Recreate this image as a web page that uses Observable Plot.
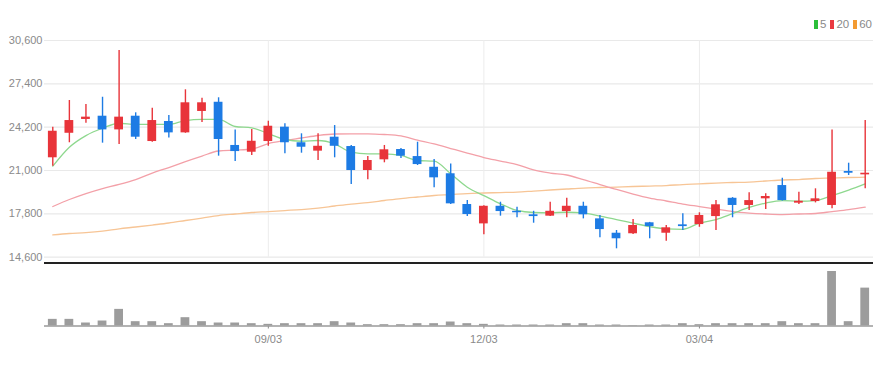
<!DOCTYPE html>
<html><head><meta charset="utf-8">
<script src="https://cdn.jsdelivr.net/npm/d3@7"></script>
<script src="https://cdn.jsdelivr.net/npm/@observablehq/plot@0.6"></script>
<style>
body{margin:0;background:#fff;}
#chart{position:relative;width:891px;height:366px;overflow:hidden;font-family:"Liberation Sans Narrow","Liberation Sans",Arial,sans-serif;}
#chart svg{display:block;background:transparent;}
#legend{position:absolute;top:18px;right:19px;font-size:11.5px;color:#8a8a8a;display:flex;align-items:center;}
#legend span.item{display:inline-flex;align-items:center;margin-left:4px;}
#legend i{display:inline-block;width:4px;height:9px;margin-right:2px;}
#sep{position:absolute;left:44px;top:262px;width:829px;height:2px;background:#222;}
</style></head><body>
<div id="chart"><div id="price"></div><div id="volume"></div><div id="sep"></div><div id="legend"></div></div>
<script>
const dates = ["2018-06-04","2018-06-11","2018-06-18","2018-06-25","2018-07-02","2018-07-09","2018-07-16","2018-07-23","2018-07-30","2018-08-06","2018-08-13","2018-08-20","2018-08-27","2018-09-03","2018-09-10","2018-09-17","2018-09-24","2018-10-01","2018-10-08","2018-10-15","2018-10-22","2018-10-29","2018-11-05","2018-11-12","2018-11-19","2018-11-26","2018-12-03","2018-12-10","2018-12-17","2018-12-24","2018-12-31","2019-01-07","2019-01-14","2019-01-21","2019-01-28","2019-02-04","2019-02-11","2019-02-18","2019-02-25","2019-03-04","2019-03-11","2019-03-18","2019-03-25","2019-04-01","2019-04-08","2019-04-15","2019-04-22","2019-04-29","2019-05-06","2019-05-13"];
const open  = [21940,23750,24770,25010,24000,25010,23140,24620,23780,25360,26040,22850,22350,23140,24200,23050,22430,23460,22770,21000,21790,22550,22030,21240,20760,18490,17060,18360,17990,17730,17630,17970,18360,17430,16370,16330,17140,16370,16990,17010,17600,18950,18420,18910,19890,18590,18710,18420,20930,20680];
const high  = [24200,26170,25870,26410,29860,25260,25600,25060,26960,26340,26370,24000,24030,24640,24450,23710,23710,24320,22850,22030,22850,22620,23090,21810,21490,18780,18400,18660,18290,17990,18660,18950,18660,17680,16570,17380,17170,16940,17800,17880,18780,19000,19350,19280,20430,19400,19650,24000,21540,24690];
const low   = [21320,23050,24490,23020,22920,23290,23090,23410,23750,24540,22060,21660,22110,22790,22230,22280,21740,21940,19970,20310,21570,21890,21370,19720,18500,17600,16250,17630,17510,17110,17600,17510,17430,16030,15220,16270,15960,15780,16570,16810,16570,17510,18050,18120,18750,18490,18610,18170,20630,19650];
const close = [23900,24690,24940,24000,24940,23460,24690,23780,26000,26000,23290,22400,23160,24270,23050,22720,22790,22790,21000,21740,22530,22060,21440,20460,18540,17750,18360,17970,17880,17600,17990,18360,17730,16640,15960,16940,16860,16770,16860,17680,18470,18420,18780,19080,18780,18730,18910,20870,20800,20800];
const ma5   = [21320,22720,23580,24120,24490,24400,24400,24400,24690,24770,24770,24250,24150,23730,23290,23160,23215,22970,22350,22230,22230,22110,21740,21690,20760,19770,19150,18540,18050,17900,17880,17920,17880,17625,17380,17110,16860,16690,16660,17120,17380,17820,18270,18600,18780,18730,18780,19150,19560,20020];
const ma20  = [18340,18860,19300,19670,19970,20335,20815,21220,21665,22070,22440,22510,22590,22990,23215,23400,23585,23695,23710,23710,23660,23550,23250,22960,22625,22290,21960,21700,21440,21040,20815,20670,20335,19965,19600,19265,18970,18750,18525,18340,18155,17970,17860,17790,17750,17790,17825,17970,18120,18300];
const ma60  = [16250,16350,16420,16530,16695,16830,16975,17125,17310,17490,17675,17790,17900,17970,18045,18120,18230,18380,18525,18635,18785,18930,19045,19155,19225,19300,19340,19375,19410,19485,19560,19635,19705,19745,19780,19820,19855,19890,19965,20015,20075,20115,20150,20225,20300,20335,20410,20445,20485,20505];
const volume = [200,200,90,150,500,130,130,70,250,130,90,90,70,50,70,70,70,130,90,40,40,40,70,70,120,70,50,30,30,30,30,70,70,30,30,10,30,30,70,40,70,70,70,70,130,70,70,1640,130,1140];
const yTicks = [14600,17800,21000,24200,27400,30600];
const xTicks = ["2018-09-03","2018-12-03","2019-03-04"];
const maNames = ["5","20","60"];
const maKeys = ["ma5","ma20","ma60"];
const legendColors = ["#2cbf3a","#ea3a40","#f39a30"];
const lineColors = ["#8ed88e","#f3a0a8","#f7c596"];

const UP = "#e8343a", DOWN = "#1d7be4";
const rows = dates.map((d,i)=>({date:d, open:open[i], high:high[i], low:low[i], close:close[i], ma5:ma5[i], ma20:ma20[i], ma60:ma60[i], volume:volume[i], color: close[i] >= open[i] ? UP : DOWN}));
const fontFamily = '"Liberation Sans Narrow","Liberation Sans",Arial,sans-serif';

const price = Plot.plot({
  width: 891, height: 262,
  marginLeft: 44, marginRight: 18, marginTop: 40, marginBottom: 5.3,
  style: {fontFamily, fontSize: "11px", color: "#8a8a8a", background: "transparent", overflow: "visible"},
  x: {type: "band", domain: dates, padding: 0, round: false, axis: null},
  y: {domain: [14600, 30600], ticks: yTicks, tickFormat: d3.format(","), tickSize: 0, tickPadding: 2, label: null},
  marks: [
    Plot.ruleY(yTicks, {stroke: "#e9e9e9", strokeWidth: 1.2}),
    Plot.ruleX(xTicks, {stroke: "#ececec", strokeWidth: 1}),
    ...maKeys.map((k,j) => Plot.line(rows, {x: "date", y: k, stroke: lineColors[j], strokeWidth: 1.3, curve: "monotone-x"})).reverse(),
    Plot.ruleX(rows, {x: "date", y1: "low", y2: "high", stroke: "color", strokeWidth: 1.4}),
    Plot.barY(rows, {x: "date", y1: "open", y2: "close", fill: "color", insetLeft: 3.9, insetRight: 3.9})
  ]
});
document.getElementById("price").appendChild(price);

const vol = Plot.plot({
  width: 891, height: 104,
  marginLeft: 44, marginRight: 18, marginTop: 9, marginBottom: 40.5,
  style: {fontFamily, fontSize: "11px", color: "#8a8a8a", background: "transparent", overflow: "visible"},
  x: {type: "band", domain: dates, padding: 0, round: false, ticks: xTicks, tickFormat: d => d.slice(5,7) + "/" + d.slice(8,10), tickSize: 3, tickPadding: 6, label: null},
  y: {domain: [0, d3.max(volume)], axis: null},
  marks: [
    Plot.ruleY([0], {stroke: "#9a9a9a", strokeWidth: 1.5}),
    Plot.barY(rows, {x: "date", y: "volume", fill: "#9c9c9c", insetLeft: 3.9, insetRight: 3.9})
  ]
});
document.getElementById("volume").appendChild(vol);

const legend = document.getElementById("legend");
maNames.forEach((n,j) => {
  const s = document.createElement("span");
  s.className = "item";
  s.innerHTML = `<i style="background:${legendColors[j]}"></i>${n}`;
  legend.appendChild(s);
});
</script>
</body></html>
